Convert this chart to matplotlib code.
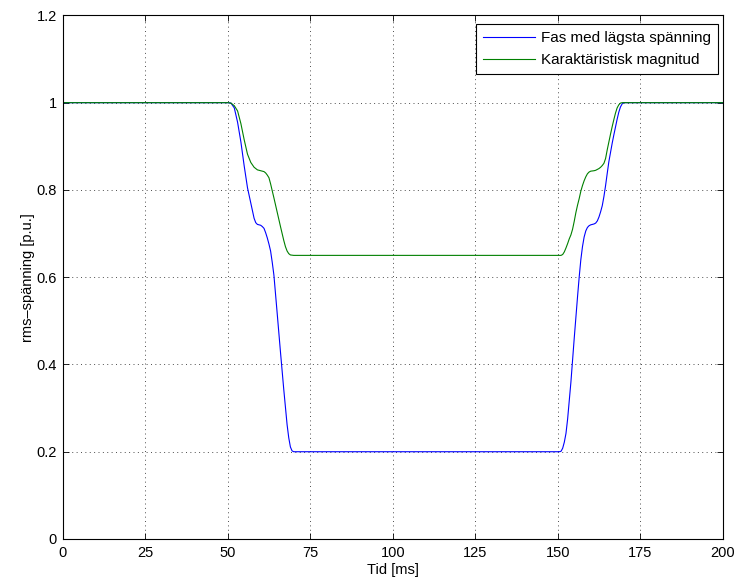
import numpy as np
import matplotlib
matplotlib.use('Agg')
import matplotlib.pyplot as plt

plt.rcParams['font.family'] = ['Liberation Sans', 'DejaVu Sans']

# Fas med lägsta spänning (blå)
t_fas = [0, 50, 51, 52, 53, 54, 55, 56, 57, 58, 58.5, 59, 59.5, 60, 60.5, 61,
         61.5, 62, 62.5, 63, 63.5, 64, 65, 66, 67, 68, 68.5, 69, 69.5, 70,
         150.5, 151, 151.5, 152, 152.5, 153, 154, 155, 156, 156.5, 157, 157.5,
         158, 158.5, 159, 159.5, 160, 160.5, 161, 161.5, 162, 162.5, 163, 163.5,
         164, 164.5, 165, 165.5, 166, 166.5, 167, 167.5, 168, 168.5, 169, 169.5,
         170, 200]
u_fas = [1.0, 1.0, 0.999, 0.988, 0.955, 0.910, 0.855, 0.805, 0.770, 0.735, 0.725,
         0.721, 0.720, 0.719, 0.716, 0.712, 0.702, 0.690, 0.676, 0.660, 0.634,
         0.605, 0.517, 0.428, 0.342, 0.262, 0.232, 0.211, 0.202, 0.200,
         0.200, 0.201, 0.208, 0.222, 0.242, 0.275, 0.360, 0.460, 0.555, 0.600,
         0.640, 0.670, 0.692, 0.706, 0.714, 0.718, 0.720, 0.721, 0.722, 0.724,
         0.729, 0.738, 0.750, 0.764, 0.785, 0.810, 0.838, 0.865, 0.886, 0.907,
         0.926, 0.944, 0.962, 0.978, 0.990, 0.997, 1.0, 1.0]

# Karaktäristisk magnitud (grön)
t_kar = [0, 50, 51, 52, 53, 54, 55, 56, 57, 58, 59, 60, 61, 61.5, 62, 62.5, 63,
         64, 65, 66, 67, 67.5, 68, 68.5, 69, 70,
         150.5, 151, 151.5, 152, 152.5, 153, 153.5, 154, 154.5, 155, 155.5, 156,
         156.5, 157, 157.5, 158, 158.5, 159, 159.5, 160, 161, 161.5, 162, 162.5,
         163, 163.5, 164, 164.5, 165, 165.5, 166, 166.5, 167, 167.5, 168, 168.5,
         169, 169.5, 200]
u_kar = [1.0, 1.0, 0.999, 0.993, 0.981, 0.952, 0.915, 0.882, 0.863, 0.852, 0.846,
         0.844, 0.842, 0.839, 0.834, 0.828, 0.814, 0.782, 0.749, 0.716, 0.684,
         0.670, 0.660, 0.654, 0.651, 0.650,
         0.650, 0.650, 0.652, 0.658, 0.667, 0.677, 0.688, 0.697, 0.710, 0.728,
         0.748, 0.765, 0.780, 0.797, 0.810, 0.821, 0.830, 0.837, 0.841, 0.843,
         0.844, 0.845, 0.847, 0.849, 0.852, 0.856, 0.861, 0.872, 0.892, 0.910,
         0.928, 0.945, 0.961, 0.976, 0.988, 0.995, 0.999, 1.0, 1.0]

xticks = [0, 25, 50, 75, 100, 125, 150, 175, 200]
yticks = [0, 0.2, 0.4, 0.6, 0.8, 1, 1.2]
ytick_labels = ['0', '0.2', '0.4', '0.6', '0.8', '1', '1.2']

fs = 10.5
fig = plt.figure(figsize=(7.39, 5.81), dpi=100)
ax = fig.add_axes([0.0848, 0.0723, 0.8932, 0.9012])

ax.plot(t_fas, u_fas, color='#0000ff', lw=0.8, label='Fas med lägsta spänning')
ax.plot(t_kar, u_kar, color='#008000', lw=0.8, label='Karaktäristisk magnitud')

ax.set_xlim(0, 200)
ax.set_ylim(0, 1.2)
ax.set_xticks(xticks)
ax.set_xticklabels([str(x) for x in xticks], fontsize=fs)
ax.set_yticks(yticks)
ax.set_yticklabels(ytick_labels, fontsize=fs)
ax.tick_params(direction='in', top=True, right=True, length=4, width=0.6, pad=5)
ax.tick_params(axis='y', pad=4)
for s in ax.spines.values():
    s.set_linewidth(0.8)
ax.grid(True, color='0.3', linestyle=(0, (1, 3.5)), linewidth=0.7)

ax.set_xlabel('Tid [ms]', fontsize=fs, labelpad=2.5)
ax.set_ylabel('rms–spänning [p.u.]', fontsize=fs, labelpad=1)

leg = ax.legend(loc='upper right', bbox_to_anchor=(0.9924, 0.9836), borderaxespad=0,
                fancybox=False, framealpha=1, edgecolor='k', fontsize=11,
                handlelength=3.4, handletextpad=0.4, labelspacing=0.55,
                borderpad=0.45)
leg.get_frame().set_linewidth(0.8)

fig.savefig('out.png', dpi=100)
